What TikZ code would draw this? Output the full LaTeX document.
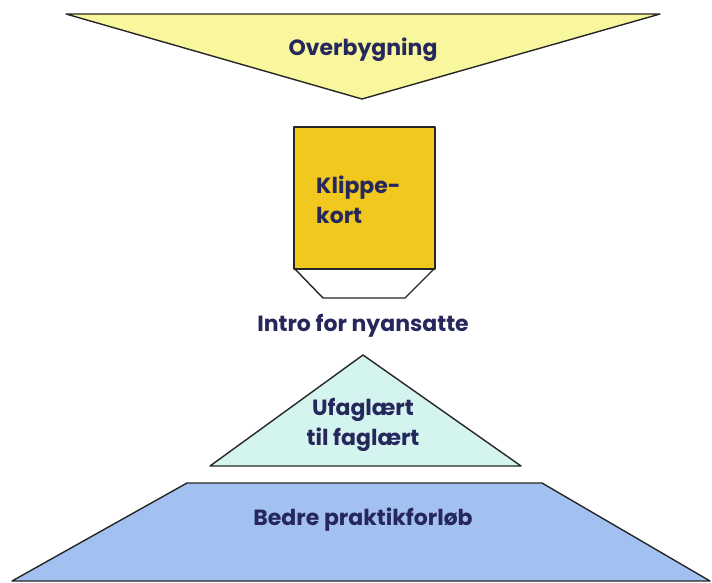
\documentclass[tikz,border=0pt]{standalone}
\usepackage{fontspec}
\setmainfont{Poppins}
\begin{document}
\begin{tikzpicture}[x=1pt,y=-1pt,
  shapeline/.style={draw=black!85, line width=1.4pt, line join=round},
  lbl/.style={font=\fontsize{22}{30}\selectfont\bfseries, text=textblue, align=center, inner sep=0pt}]
\definecolor{textblue}{HTML}{26275A}
\definecolor{topyellow}{HTML}{F8F79E}
\definecolor{gold}{HTML}{F0C81E}
\definecolor{paleaqua}{HTML}{D4F4F0}
\definecolor{midblue}{HTML}{A2C0F0}
\useasboundingbox (0,0) rectangle (712,583);
% top funnel
\draw[shapeline, fill=topyellow] (66,14) -- (660,14) -- (362,99) -- cycle;
\node[lbl] (over) at (363,50) {Overbygning};
% klippekort
\draw[shapeline, fill=white] (294,268) -- (435,268) -- (405,298) -- (323,298) -- cycle;
\draw[shapeline, fill=gold] (294,127) rectangle (435,269);
\node[lbl, align=left, anchor=west] (klip) at (316,200) {Klippe-\\kort};
\node[lbl] (intro) at (363,326) {Intro for nyansatte};
% triangle
\draw[shapeline, fill=paleaqua] (363,355) -- (521,466) -- (210,466) -- cycle;
\node[lbl] (ufag) at (363,425) {Ufaglært\\til faglært};
% trapezoid
\draw[shapeline, fill=midblue] (187,483) -- (542,483) -- (710,581) -- (12,581) -- cycle;
\node[lbl] (bedre) at (363,520) {Bedre praktikforløb};
\end{tikzpicture}
\end{document}
